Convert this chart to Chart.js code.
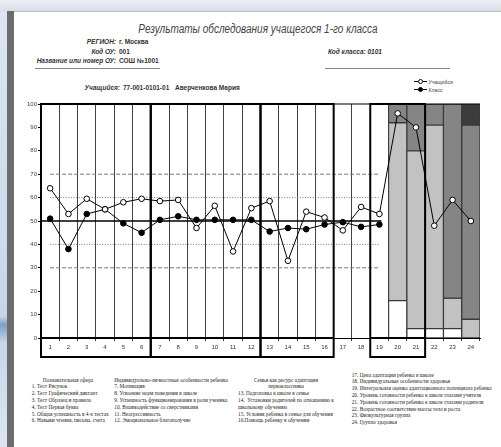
<!DOCTYPE html>
<html><head><meta charset="utf-8">
<script src="https://cdn.jsdelivr.net/npm/chart.js"></script>
<style>
html,body{margin:0;padding:0;width:501px;height:447px;overflow:hidden;background:#fff;position:relative;font-family:"Liberation Sans",Arial,sans-serif;color:#222;}
.a{position:absolute;white-space:nowrap;}
#tb{left:0;top:0;width:501px;height:11px;background:linear-gradient(#eef1f5,#d9dee6);border-bottom:1px solid #b8bec8;}
#ls{left:0;top:11px;width:7px;height:436px;background:linear-gradient(#dce6f2,#c6d6ea 70%,#7aa0cc 72%,#c6d6ea 76%,#dce6f2);}
#gs{left:7px;top:11px;width:7px;height:436px;background:#6c6c6c;}
#title{left:14px;width:488px;top:22px;text-align:center;font-style:italic;font-size:12.5px;color:#444;transform:scaleX(0.8);transform-origin:244px 50%;}
.hl{font-weight:bold;font-style:italic;font-size:6.5px;text-align:right;width:90px;color:#333;}
.hv{font-weight:bold;font-size:6.5px;color:#333;}
.rule{height:0;border-top:1px solid #888;}
.ft{font-family:"Liberation Serif","Times New Roman",serif;font-size:5.3px;line-height:6.8px;color:#222;}
.leg{font-size:5.2px;color:#444;display:flex;align-items:center;height:7px;}
.ll{display:inline-block;width:4px;height:0;border-top:1px solid #000;}
.lc{display:inline-block;width:3px;height:3px;border:1px solid #000;border-radius:50%;background:#fff;}
#wrap{left:20px;top:97px;width:470px;height:266px;}
</style></head><body>
<div class="a" id="tb"></div>
<div class="a" id="ls"></div>
<div class="a" id="gs"></div>
<div class="a" id="title">Результаты обследования учащегося 1-го класса</div>

<div class="a hl" style="left:26px;top:38px;">РЕГИОН:</div>
<div class="a hv" style="left:119px;top:38px;">г. Москва</div>
<div class="a hl" style="left:26px;top:48px;">Код ОУ:</div>
<div class="a hv" style="left:119px;top:48px;">001</div>
<div class="a hl" style="left:26px;top:57px;">Название или номер ОУ:</div>
<div class="a hv" style="left:119px;top:57px;">СОШ №1001</div>
<div class="a" style="left:328px;top:48px;font-size:6.5px;font-weight:bold;font-style:italic;color:#333;">Код класса: 0101</div>
<div class="a rule" style="left:35px;top:68px;width:125px;"></div>
<div class="a rule" style="left:325px;top:68px;width:125px;"></div>

<div class="a hl" style="left:30px;top:84px;">Учащийся:</div>
<div class="a hv" style="left:123px;top:84px;">77-001-0101-01</div>
<div class="a hv" style="left:175px;top:84px;">Аверченкова Мария</div>

<div class="a leg" style="left:414px;top:78px;"><span class="ll"></span><span class="lc"></span><span class="ll"></span>&nbsp;Учащийся</div>
<div class="a leg" style="left:414px;top:86px;"><span class="ll"></span><span class="lc" style="background:#000"></span><span class="ll"></span>&nbsp;Класс</div>

<div class="a" id="wrap"><canvas id="c" width="470" height="266"></canvas></div>

<div class="a ft" style="left:30px;top:376.6px;width:76px;text-align:center;">Познавательная сфера</div>
<div class="a ft" style="left:31.7px;top:383.4px;">1. Тест Рисунок<br>2. Тест Графический диктант<br>3. Тест Образец и правило<br>4. Тест Первая буква<br>5. Общая успешность в 4-х тестах<br>6. Навыки чтения, письма, счета</div>

<div class="a ft" style="left:114px;top:376.6px;width:114px;text-align:center;">Индивидуально-личностные особенности ребенка</div>
<div class="a ft" style="left:114.3px;top:383.4px;">7. Мотивация<br>8. Усвоение норм поведения в школе<br>9. Успешность функционирования в роли ученика<br>10. Взаимодействие со сверстниками<br>11. Неагрессивность<br>12. Эмоциональное благополучие</div>

<div class="a ft" style="left:238px;top:376.6px;width:96px;text-align:center;">Семья как ресурс адаптации<br>первоклассника</div>
<div class="a ft" style="left:238px;top:390.2px;">13. Подготовка к школе в семье<br>14.&nbsp; Установки родителей по отношению к<br>школьному обучению<br>15. Условия ребенка в семье для обучения<br>16.Помощь ребенку в обучении</div>

<div class="a ft" style="left:351.7px;top:371.6px;">17. Цена адаптации ребенка в школе<br>18. Индивидуальные особенности здоровья<br>19. Интегральная оценка адаптационного потенциала ребенка<br>20. Уровень готовности ребенка к школе глазами учителя<br>21. Уровень готовности ребенка к школе глазами родителя<br>22. Возрастное соответствие массы тела и роста<br>23. Физкультурная группа<br>24. Группа здоровья</div>

<script>
const categories = ['1','2','3','4','5','6','7','8','9','10','11','12','13','14','15','16','17','18','19','20','21','22','23','24'];
const studentValues = [64, 53, 59.5, 55, 58, 59.5, 58.5, 59, 47, 56.5, 37, 55.5, 58.5, 33, 54, 51.5, 46, 56, 53, 96, 90, 48, 59, 50];
const classValues = [51, 38, 53, 55, 49, 45, 50.5, 52, 50.5, 50.5, 50.5, 50.5, 45.5, 47, 46.5, 48.5, 49.5, 47.5, 48.5, null, null, null, null, null];
const barWhite = [null,null,null,null,null,null,null,null,null,null,null,null,null,null,null,null,null,null,null, 16, 4, 4, 4, null];
const barLight = [null,null,null,null,null,null,null,null,null,null,null,null,null,null,null,null,null,null,null, 76, 76, 87, 13, 8];
const barMid   = [null,null,null,null,null,null,null,null,null,null,null,null,null,null,null,null,null,null,null, 8, 20, 9, 83, 83];
const barDark  = [null,null,null,null,null,null,null,null,null,null,null,null,null,null,null,null,null,null,null, null, null, null, null, 9];
const yTicks = [0,10,20,30,40,50,60,70,80,90,100];
const refLevels = [30, 40, 50, 60, 70];
const groupRanges = [[1,6],[7,12],[13,16],[19,21]];

const tickFont = {family:'"Liberation Sans", Arial, sans-serif', size:6};

const decor = {
  id:'decor',
  beforeDatasetsDraw(chart){
    const {ctx, chartArea:a, scales:{x,y}} = chart;
    let last = 0;
    classValues.forEach((v,i)=>{ if(v!==null) last=i; });
    const x0 = x.getPixelForValue(0), x1 = x.getPixelForValue(last);
    ctx.save();
    refLevels.forEach(v=>{
      const py = y.getPixelForValue(v);
      ctx.beginPath();
      if(v===50){ ctx.setLineDash([]); ctx.strokeStyle='#000'; ctx.lineWidth=1.6; ctx.moveTo(a.left,py); ctx.lineTo(x1+2,py); }
      else if(v===40||v===60){ ctx.setLineDash([1,1.6]); ctx.strokeStyle='#777'; ctx.lineWidth=1; ctx.moveTo(x0,py); ctx.lineTo(x1,py); }
      else { ctx.setLineDash([4,2]); ctx.strokeStyle='#777'; ctx.lineWidth=1; ctx.moveTo(x0,py); ctx.lineTo(x1,py); }
      ctx.stroke();
    });
    ctx.restore();
  },
  afterDatasetsDraw(chart){
    const {ctx, chartArea:a, scales:{x}} = chart;
    const cw = x.getPixelForValue(1) - x.getPixelForValue(0);
    ctx.save();
    ctx.strokeStyle='#000';
    ctx.lineWidth=1;
    ctx.beginPath(); ctx.moveTo(a.left,a.top); ctx.lineTo(a.right,a.top); ctx.stroke();
    ctx.lineWidth=2;
    const lowest = a.bottom + 19;
    groupRanges.forEach(([s,e])=>{
      const l = x.getPixelForValue(s-1) - cw/2;
      const r = x.getPixelForValue(e-1) + cw/2;
      ctx.strokeRect(l, a.top, r-l, lowest-a.top);
      ctx.beginPath(); ctx.moveTo(l,a.bottom); ctx.lineTo(r,a.bottom); ctx.stroke();
    });
    ctx.restore();
  }
};

const barCommon = {type:'bar', yAxisID:'y2', stack:'bars', borderColor:'#3a3a3a', borderWidth:1, categoryPercentage:1, barPercentage:1, order:2, borderSkipped:false};

new Chart(document.getElementById('c'), {
  data:{
    labels:categories,
    datasets:[
      Object.assign({label:'w', data:barWhite, backgroundColor:'#ffffff'}, barCommon),
      Object.assign({label:'l', data:barLight, backgroundColor:'#c2c2c2'}, barCommon),
      Object.assign({label:'m', data:barMid, backgroundColor:'#858585'}, barCommon),
      Object.assign({label:'d', data:barDark, backgroundColor:'#3c3c3c'}, barCommon),
      {type:'line', label:'Учащийся', data:studentValues, yAxisID:'y', borderColor:'#000', borderWidth:1, tension:0,
        pointRadius:2.8, pointBackgroundColor:'#fff', pointBorderColor:'#000', pointBorderWidth:1, order:0, spanGaps:false},
      {type:'line', label:'Класс', data:classValues, yAxisID:'y', borderColor:'#000', borderWidth:1, tension:0,
        pointRadius:2.8, pointBackgroundColor:'#000', pointBorderColor:'#000', pointBorderWidth:1, order:1, spanGaps:false}
    ]
  },
  options:{
    responsive:false, animation:false, devicePixelRatio:1,
    layout:{padding:{top:7,right:10,bottom:6,left:0}},
    plugins:{legend:{display:false}, tooltip:{enabled:false}, title:{display:false}},
    scales:{
      x:{type:'category', offset:true,
        grid:{offset:true, color:'#111', lineWidth:0.8, drawOnChartArea:true, drawTicks:true, tickLength:3, tickColor:'#000'},
        border:{display:true, color:'#000', width:1},
        ticks:{font:tickFont, color:'#333', padding:3, maxRotation:0, autoSkip:false},
        afterFit(s){ s.height = 19; }
      },
      y:{min:0, max:100, position:'left',
        afterBuildTicks(s){ s.ticks = yTicks.map(v=>({value:v})); },
        grid:{drawOnChartArea:false, drawTicks:true, tickLength:3, color:'#000'},
        border:{display:true, color:'#000', width:1},
        ticks:{font:tickFont, color:'#444', padding:1},
        afterFit(s){ s.width = 21; }
      },
      y2:{min:0, max:100, stacked:true, display:false}
    }
  },
  plugins:[decor]
});
</script>
</body></html>
